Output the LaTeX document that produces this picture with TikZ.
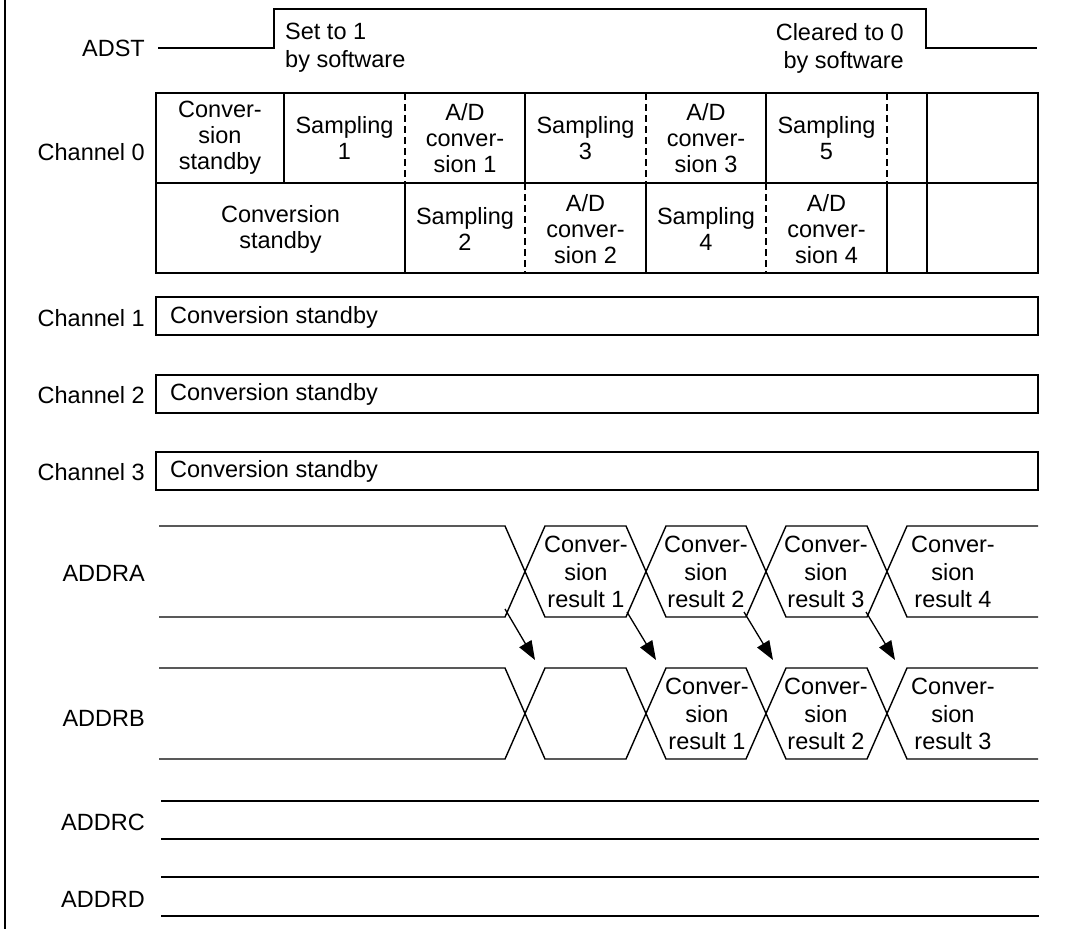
\documentclass[tikz,border=0pt]{standalone}
\usepackage{fontspec}
\setmainfont{Liberation Sans}
\usetikzlibrary{arrows.meta}
\begin{document}
\begin{tikzpicture}[x=1pt,y=-1pt,
  sig/.style={line width=1.4pt, line join=miter},
  solidl/.style={line width=1.6pt},
  dashl/.style={line width=1.2pt, dash pattern=on 7pt off 4pt},
  lbl/.style={anchor=east, inner sep=0pt, font=\fontsize{23.5}{26.5}\selectfont},
  cell/.style={align=center, inner sep=0pt, font=\fontsize{23.5}{26}\selectfont},
  rcell/.style={align=center, inner sep=0pt, font=\fontsize{23.5}{27.5}\selectfont},
  arr/.style={line width=1.3pt, -{Triangle[length=19pt,width=14pt]}},
]
\useasboundingbox (0,0) rectangle (1065,929);
% frame remnants
\draw[line width=1.6pt] (5,0) -- (5,929);
\draw[line width=2.4pt] (553,9) -- (697,9);

% ADST
\node[lbl] (adst) at (145,48) {ADST};
\draw[sig] (158,48) -- (274,48) -- (274,9) -- (926,9) -- (926,48) -- (1037,48);
\node[anchor=north west, align=left, inner sep=0pt, font=\fontsize{23.5}{28}\selectfont] (set1) at (285,23) {Set to 1\\by software};
\node[anchor=north east, align=right, inner sep=0pt, font=\fontsize{23.5}{28}\selectfont] (clr0) at (904,23) {Cleared to 0\\by software};

% Channel 0
\node[lbl] (ch0) at (145,152) {Channel 0};
\draw[solidl] (156,93) rectangle (1038,273);
\draw[solidl] (156,183) -- (1038,183);
\foreach \x in {284,525,766,927} \draw[solidl] (\x,93) -- (\x,183);
\foreach \x in {405,646,887} \draw[dashl] (\x,93) -- (\x,183);
\foreach \x in {405,646,887,927} \draw[solidl] (\x,183) -- (\x,273);
\foreach \x in {525,766} \draw[dashl] (\x,183) -- (\x,273);

\node[cell] (t1) at (220,138) {Conver-\\sion\\standby};
\node[cell] (t2) at (344.5,138) {Sampling\\1};
\node[cell] (t3) at (465,138) {A/D\\conver-\\sion 1};
\node[cell] (t4) at (585.5,138) {Sampling\\3};
\node[cell] (t5) at (706,138) {A/D\\conver-\\sion 3};
\node[cell] (t6) at (826.5,138) {Sampling\\5};
\node[cell] (b1) at (280.5,229) {Conversion\\standby};
\node[cell] (b2) at (465,229) {Sampling\\2};
\node[cell] (b3) at (585.5,229) {A/D\\conver-\\sion 2};
\node[cell] (b4) at (706,229) {Sampling\\4};
\node[cell] (b5) at (826.5,229) {A/D\\conver-\\sion 4};

% Channels 1-3
\node[lbl] (ch1) at (145,318) {Channel 1};
\draw[solidl] (156,297) rectangle (1038,335);
\node[anchor=west, inner sep=0pt, font=\fontsize{23.5}{26}\selectfont] (s1) at (170,317) {Conversion standby};
\node[lbl] (ch2) at (145,395) {Channel 2};
\draw[solidl] (156,375) rectangle (1038,413);
\node[anchor=west, inner sep=0pt, font=\fontsize{23.5}{26}\selectfont] (s2) at (170,394) {Conversion standby};
\node[lbl] (ch3) at (145,472) {Channel 3};
\draw[solidl] (156,452) rectangle (1038,490);
\node[anchor=west, inner sep=0pt, font=\fontsize{23.5}{26}\selectfont] (s3) at (170,471) {Conversion standby};

% ADDRA
\node[lbl] (addra) at (145,573) {ADDRA};
\draw[sig] (159,526) -- (505,526) -- (545,617) -- (626,617) -- (666,526) -- (746,526) -- (786,617) -- (867,617) -- (907,526) -- (1038,526);
\draw[sig] (159,617) -- (505,617) -- (545,526) -- (626,526) -- (666,617) -- (746,617) -- (786,526) -- (867,526) -- (907,617) -- (1038,617);
\node[rcell] (ra1) at (586,572) {Conver-\\sion\\result 1};
\node[rcell] (ra2) at (706,572) {Conver-\\sion\\result 2};
\node[rcell] (ra3) at (826,572) {Conver-\\sion\\result 3};
\node[rcell] (ra4) at (953,572) {Conver-\\sion\\result 4};

% ADDRB
\node[lbl] (addrb) at (145,718) {ADDRB};
\draw[sig] (159,668) -- (505,668) -- (545,759) -- (626,759) -- (666,668) -- (746,668) -- (786,759) -- (867,759) -- (907,668) -- (1038,668);
\draw[sig] (159,759) -- (505,759) -- (545,668) -- (626,668) -- (666,759) -- (746,759) -- (786,668) -- (867,668) -- (907,759) -- (1038,759);
\node[rcell] (rb1) at (707,714) {Conver-\\sion\\result 1};
\node[rcell] (rb2) at (826,714) {Conver-\\sion\\result 2};
\node[rcell] (rb3) at (953,714) {Conver-\\sion\\result 3};

% transfer arrows
\coordinate (a1s) at (505,609); \coordinate (a1e) at (535,660);
\coordinate (a2s) at (627,612); \coordinate (a2e) at (656,660);
\coordinate (a3s) at (744,612); \coordinate (a3e) at (773,660);
\coordinate (a4s) at (866,612); \coordinate (a4e) at (895,660);
\draw[arr] (a1s) -- (a1e);
\draw[arr] (a2s) -- (a2e);
\draw[arr] (a3s) -- (a3e);
\draw[arr] (a4s) -- (a4e);

% ADDRC / ADDRD
\node[lbl] (addrc) at (145,822) {ADDRC};
\draw[sig] (161,801) -- (1039,801);
\draw[sig] (161,839) -- (1039,839);
\node[lbl] (addrd) at (145,899) {ADDRD};
\draw[sig] (161,877) -- (1039,877);
\draw[sig] (161,916) -- (1039,916);
\end{tikzpicture}
\end{document}
